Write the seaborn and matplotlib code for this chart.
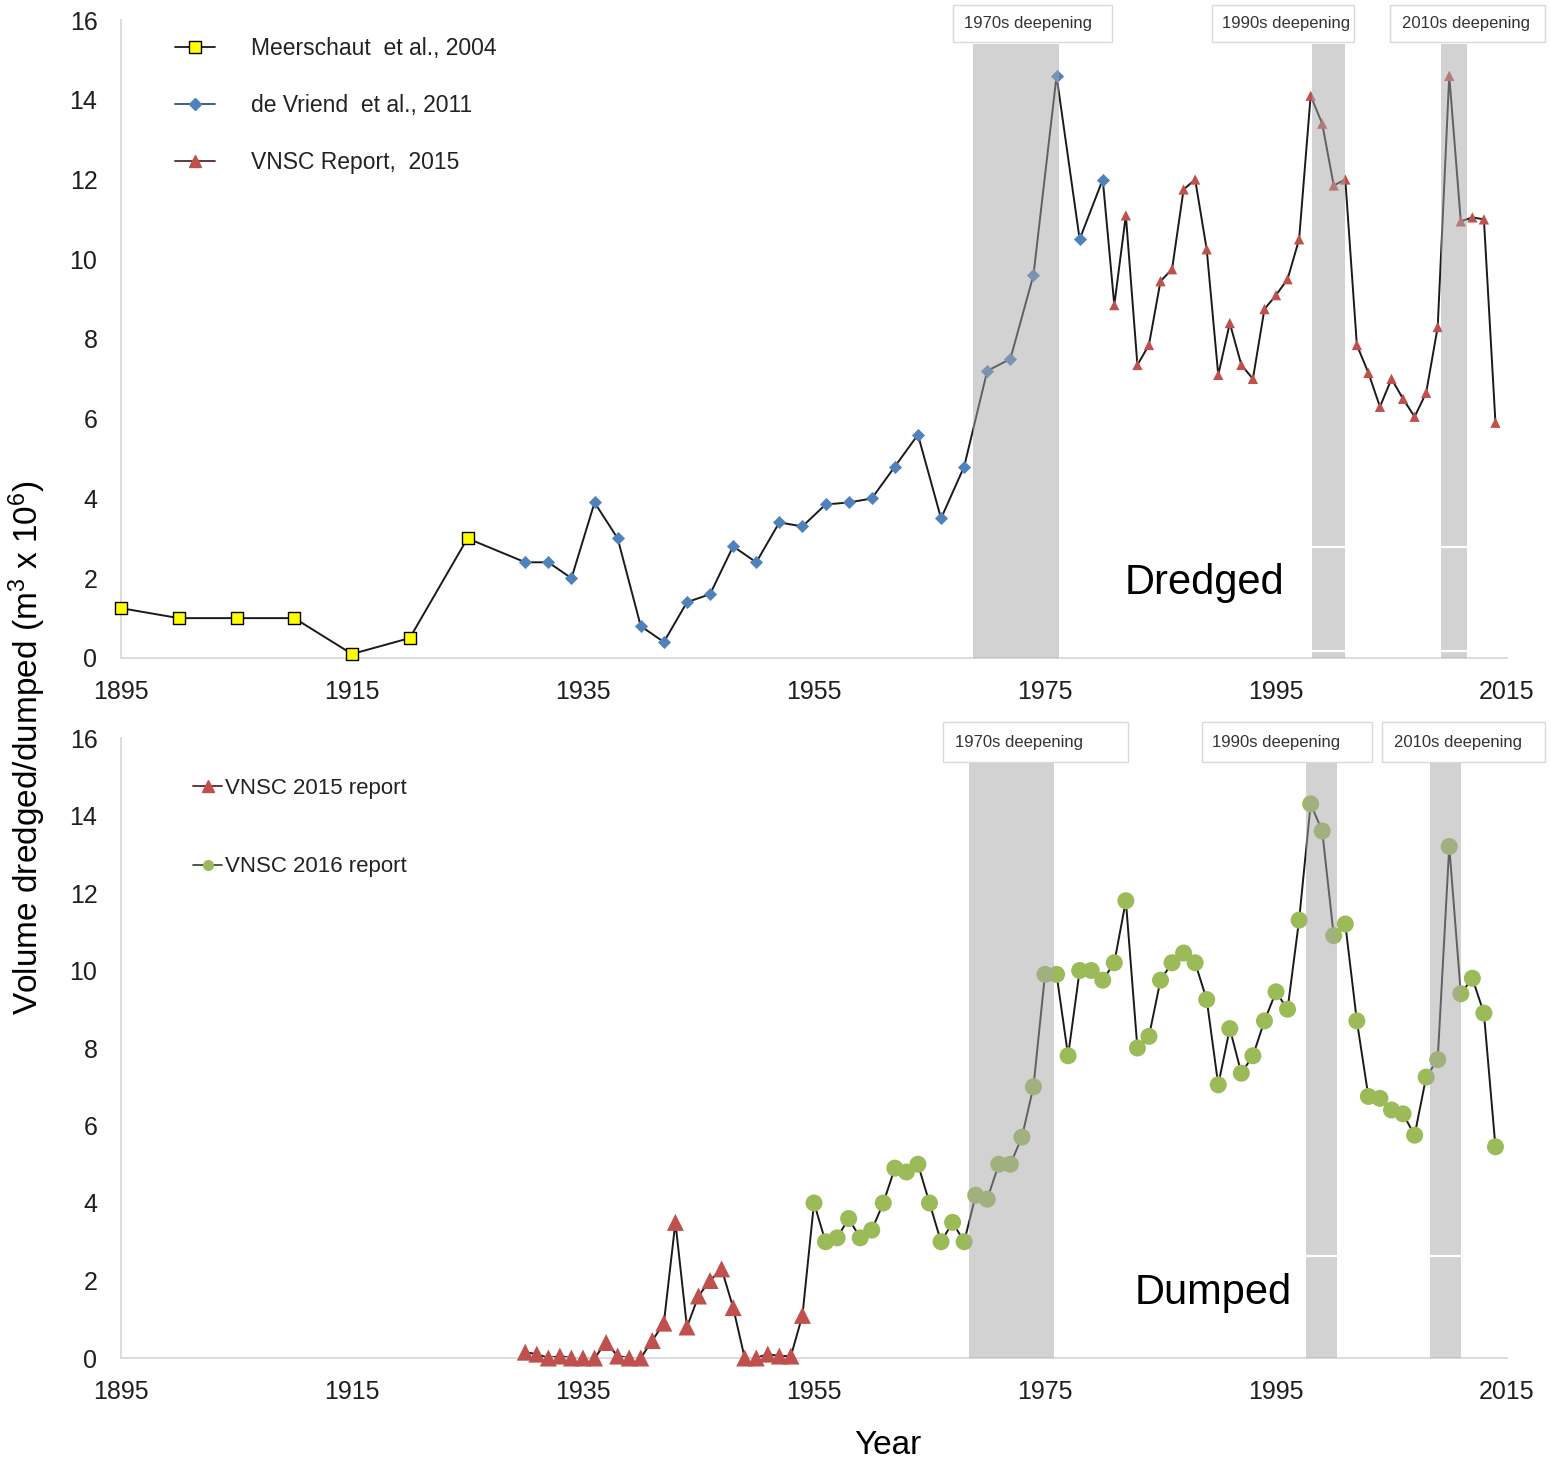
import matplotlib
matplotlib.use("Agg")
import matplotlib.pyplot as plt
from matplotlib.lines import Line2D
from matplotlib.patches import Rectangle
import seaborn as sns

# ---------------- data (volumes in million m3) ----------------
# Dredged
meerschaut_years = [1895, 1900, 1905, 1910, 1915, 1920, 1925]
meerschaut_vol = [1.25, 1.0, 1.0, 1.0, 0.1, 0.5, 3.0]

devriend_years = list(range(1930, 1981, 2))
devriend_vol = [2.4, 2.4, 2.0, 3.9, 3.0, 0.8, 0.4, 1.4, 1.6, 2.8, 2.4, 3.4, 3.3,
                3.85, 3.9, 4.0, 4.8, 5.6, 3.5, 4.8, 7.2, 7.5, 9.6, 14.6, 10.5, 12.0]

vnsc_dredged_years = list(range(1981, 2015))
vnsc_dredged_vol = [8.85, 11.1, 7.35, 7.85, 9.45, 9.75, 11.75, 12.0, 10.25, 7.1,
                    8.4, 7.35, 7.0, 8.75, 9.1, 9.5, 10.5, 14.1, 13.4, 11.85,
                    12.0, 7.85, 7.15, 6.3, 7.0, 6.5, 6.05, 6.65, 8.3, 14.6,
                    10.95, 11.05, 11.0, 5.9]

# Dumped
vnsc2015_years = list(range(1930, 1955))
vnsc2015_vol = [0.15, 0.1, 0.0, 0.05, 0.0, 0.0, 0.0, 0.4, 0.05, 0.0, 0.0, 0.45,
                0.9, 3.5, 0.8, 1.6, 2.0, 2.3, 1.3, 0.0, 0.0, 0.1, 0.05, 0.05, 1.1]

vnsc2016_years = list(range(1955, 2015))
vnsc2016_vol = [4.0, 3.0, 3.1, 3.6, 3.1, 3.3, 4.0, 4.9, 4.8, 5.0,
                4.0, 3.0, 3.5, 3.0, 4.2, 4.1, 5.0, 5.0, 5.7, 7.0,
                9.9, 9.9, 7.8, 10.0, 10.0, 9.75, 10.2, 11.8, 8.0, 8.3,
                9.75, 10.2, 10.45, 10.2, 9.25, 7.05, 8.5, 7.35, 7.8, 8.7,
                9.45, 9.0, 11.3, 14.3, 13.6, 10.9, 11.2, 8.7, 6.75, 6.7,
                6.4, 6.3, 5.75, 7.25, 7.7, 13.2, 9.4, 9.8, 8.9, 5.45]

# Deepening campaigns (shaded periods) and their labels
deepening_labels = ["1970s deepening", "1990s deepening", "2010s deepening"]
dredged_periods = [(1968.8, 1976.2), (1998.1, 2000.95), (2009.3, 2011.5)]
dumped_periods = [(1968.4, 1975.8), (1997.6, 2000.3), (2008.3, 2011.0)]

x_ticks = list(range(1895, 2016, 20))
y_ticks = list(range(0, 17, 2))

# ---------------- styling ----------------
sns.set_theme(style="white")
plt.rcParams['font.family'] = ['Liberation Sans', 'DejaVu Sans']
plt.rcParams['mathtext.fontset'] = 'custom'
plt.rcParams['mathtext.rm'] = 'Liberation Sans'
plt.rcParams['mathtext.it'] = 'Liberation Sans:italic'

RED = '#C0504D'
BLUE = '#4F81BD'
GREEN = '#9BBB59'
YELLOW = '#FFFF00'
LINE = '#1A1A1A'
AXIS = '#D9D9D9'

W, H = 1551, 1469
fig = plt.figure(figsize=(W / 100, H / 100), dpi=100)


def px_axes(left, top, right, bottom):
    return fig.add_axes([left / W, 1 - bottom / H, (right - left) / W, (bottom - top) / H])


ax1 = px_axes(121, 20, 1507, 658)
ax2 = px_axes(121, 738, 1507, 1358)


def style(ax):
    ax.set_xlim(1895, 2015)
    ax.set_ylim(0, 16)
    ax.set_xticks(x_ticks)
    ax.set_yticks(y_ticks)
    for s in ['top', 'right']:
        ax.spines[s].set_visible(False)
    for s in ['left', 'bottom']:
        ax.spines[s].set_color(AXIS)
        ax.spines[s].set_linewidth(1.3)
    ax.tick_params(axis='both', colors=AXIS, labelcolor='#1F1F1F', labelsize=18,
                   length=5, width=1, direction='out')
    ax.tick_params(axis='x', pad=11)
    ax.tick_params(axis='y', pad=12)
    ax.set_xlabel('')
    ax.set_ylabel('')


def shade(ax, periods, labels, band_top, box_lo, box_hi, boxes, gaps):
    for (x0, x1) in periods:
        ax.axvspan(x0, x1, ymin=0, ymax=band_top / 16, color='#A6A6A6', alpha=0.5,
                   lw=0, zorder=5)
    for i in (1, 2):
        x0, x1 = periods[i]
        for g in gaps:
            ax.hlines(g, x0, x1, color='white', lw=1.6, zorder=6)
    for lab, (bx0, bx1, tx) in zip(labels, boxes):
        ax.add_patch(Rectangle((bx0, box_lo), bx1 - bx0, box_hi - box_lo,
                               facecolor='white', edgecolor='#DADADA', lw=1.0,
                               clip_on=False, zorder=7))
        ax.text(tx, (box_lo + box_hi) / 2, lab, fontsize=12, color='#333333',
                ha='left', va='center', clip_on=False, zorder=8)


def unclip(ax):
    for coll in ax.collections:
        coll.set_clip_on(False)


# ---------------- dredged panel ----------------
style(ax1)
dredged_years = meerschaut_years + devriend_years + vnsc_dredged_years
dredged_vol = meerschaut_vol + devriend_vol + vnsc_dredged_vol
sns.lineplot(x=dredged_years, y=dredged_vol, color=LINE, lw=1.4, sort=False,
             estimator=None, ax=ax1, zorder=2, legend=False)
sns.scatterplot(x=meerschaut_years, y=meerschaut_vol, marker='s', s=72, color=YELLOW,
                edgecolor='black', linewidth=1.0, ax=ax1, zorder=3, legend=False)
sns.scatterplot(x=devriend_years, y=devriend_vol, marker='D', s=38, color=BLUE,
                edgecolor=BLUE, linewidth=0.5, ax=ax1, zorder=3, legend=False)
sns.scatterplot(x=vnsc_dredged_years, y=vnsc_dredged_vol, marker='^', s=55, color=RED,
                edgecolor='none', ax=ax1, zorder=3, legend=False)
unclip(ax1)

shade(ax1, dredged_periods, deepening_labels, 15.41, 15.44, 16.37,
      [(1967.0, 1980.8, 1968.0), (1989.5, 2001.75, 1990.3), (2004.9, 2018.3, 2005.9)],
      [2.78, 0.18])

h1 = [Line2D([], [], color=LINE, lw=1.3, marker='s', ms=8.5, mfc=YELLOW, mec='black'),
      Line2D([], [], color='#2F4F7F', lw=1.3, marker='D', ms=6.5, mfc=BLUE, mec=BLUE),
      Line2D([], [], color='#5A2A2A', lw=1.3, marker='^', ms=8, mfc=RED, mec=RED)]
ax1.legend(h1, ["Meerschaut  et al., 2004", "de Vriend  et al., 2011", "VNSC Report,  2015"],
           loc='upper left', bbox_to_anchor=(0.039, 0.974), frameon=False, fontsize=16.5,
           handlelength=1.75, handletextpad=1.55, labelspacing=1.5, borderpad=0,
           borderaxespad=0, labelcolor='#222222')
ax1.text(1981.9, 1.88, 'Dredged', fontsize=30, ha='left', va='center', color='black',
         zorder=9)

# ---------------- dumped panel ----------------
style(ax2)
dumped_years = vnsc2015_years + vnsc2016_years
dumped_vol = vnsc2015_vol + vnsc2016_vol
sns.lineplot(x=dumped_years, y=dumped_vol, color=LINE, lw=1.4, sort=False,
             estimator=None, ax=ax2, zorder=2, legend=False)
sns.scatterplot(x=vnsc2015_years, y=vnsc2015_vol, marker='^', s=150, color=RED,
                edgecolor='none', ax=ax2, zorder=3, legend=False)
sns.scatterplot(x=vnsc2016_years, y=vnsc2016_vol, marker='o', s=150, color=GREEN,
                edgecolor='none', ax=ax2, zorder=3, legend=False)
unclip(ax2)

shade(ax2, dumped_periods, deepening_labels, 15.38, 15.38, 16.41,
      [(1966.2, 1982.2, 1967.2), (1988.6, 2003.3, 1989.5), (2004.2, 2018.3, 2005.2)],
      [2.63])

h2 = [Line2D([], [], color='#5A2A2A', lw=1.3, marker='^', ms=8, mfc=RED, mec=RED),
      Line2D([], [], color='#3F4F2F', lw=1.3, marker='o', ms=7, mfc=GREEN, mec=GREEN)]
ax2.legend(h2, ["VNSC 2015 report", "VNSC 2016 report"], loc='upper left',
           bbox_to_anchor=(0.052, 0.936), frameon=False, fontsize=16,
           handlelength=1.3, handletextpad=0.15, labelspacing=2.6, borderpad=0,
           borderaxespad=0, labelcolor='#222222')
ax2.text(1982.8, 1.68, 'Dumped', fontsize=30, ha='left', va='center', color='black',
         zorder=9)

# ---------------- shared axis titles ----------------
fig.text(27 / W, 1 - 748 / H, r'Volume dredged/dumped (m$^3$ x 10$^6$)', rotation=90,
         fontsize=24, ha='center', va='center', color='black')
fig.text(888 / W, 1 - 1445 / H, 'Year', fontsize=24, ha='center', va='center',
         color='black')

fig.savefig('out.png', dpi=100)
